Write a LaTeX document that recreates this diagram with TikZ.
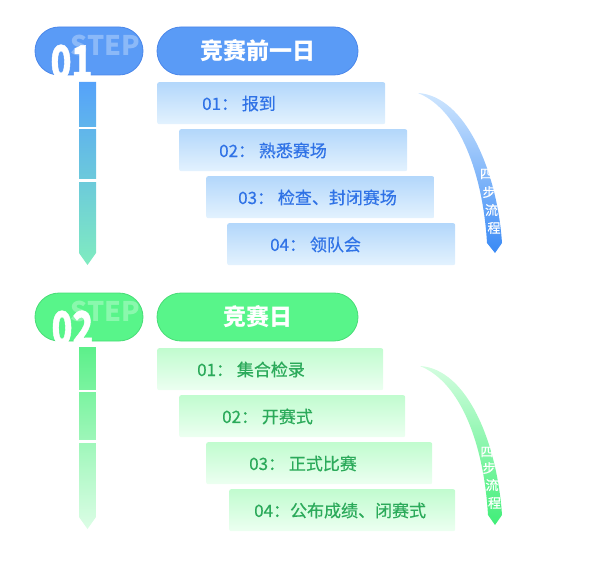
\documentclass[tikz,border=0pt]{standalone}
\usepackage{fontspec}
\setmainfont{Noto Sans CJK SC}
\newfontfamily\itemfont{Noto Sans CJK SC}[FakeBold=0.5]
\newfontfamily\heavyfont{Noto Sans CJK SC}[FakeBold=1.2, BoldFeatures={FakeBold=1.2}]
\usetikzlibrary{positioning}
% colours, blue section
\definecolor{bluepill}{HTML}{5A9BF6}
\definecolor{blueline}{HTML}{4A86EA}
\definecolor{bluetop}{HTML}{B3D7FB}
\definecolor{bluebot}{HTML}{E3F2FE}
\definecolor{bluetext}{HTML}{2F72E6}
\definecolor{bluebarA}{HTML}{55A2FA}
\definecolor{bluebarM}{HTML}{62C2E8}
\definecolor{bluebarB}{HTML}{80ECC0}
\definecolor{bluearrA}{HTML}{CFE6FE}
\definecolor{bluearrM}{HTML}{5EA2F7}
\definecolor{bluearrB}{HTML}{3A8AF5}
% colours, green section
\definecolor{greenpill}{HTML}{58F58A}
\definecolor{greenline}{HTML}{48DC76}
\definecolor{greentop}{HTML}{C1FCCF}
\definecolor{greenbot}{HTML}{ECFFF1}
\definecolor{greentext}{HTML}{2BAA5A}
\definecolor{greenbarA}{HTML}{5CF08A}
\definecolor{greenbarM}{HTML}{9CF7B8}
\definecolor{greenbarB}{HTML}{DCFDE6}
\definecolor{greenarrA}{HTML}{D4FDE0}
\definecolor{greenarrM}{HTML}{6CF196}
\definecolor{greenarrB}{HTML}{40EE78}
\tikzset{
  pill/.style={draw=#1line, fill=#1pill, line width=0.8pt, rounded corners=24pt,
    minimum height=48pt, inner sep=0pt, text=white, font=\fontsize{23}{26}\selectfont\bfseries},
  steptag/.style={text=white, text opacity=0.3, inner sep=0pt, font=\fontsize{27}{30}\selectfont\bfseries},
  stepnum/.style={text=white, inner sep=0pt, font=\fontsize{40}{44}\selectfont\heavyfont\bfseries},
  itembox/.style={top color=#1top, bottom color=#1bot, rounded corners=2pt,
    minimum height=42pt, anchor=north west, inner sep=0pt},
  itemtxt/.style={text=#1text, anchor=west, inner sep=0pt, font=\fontsize{17}{19}\selectfont\itemfont},
  arrtxt/.style={text=white, inner sep=0pt, font=\fontsize{13}{14}\selectfont\itemfont}
}
\begin{document}
\begin{tikzpicture}[x=1pt, y=-1pt]
\useasboundingbox (0,0) rectangle (594,588);

% ---- step 01
\node[pill=blue, minimum width=108pt] (step1) at (89,51) {};
\node[steptag] (tag1) at (105.5,45) {STEP};
\node[stepnum] (num1) at (71.5,62) {\scalebox{0.86}[1.15]{01}};
\node[pill=blue, minimum width=201pt] (title1) at (257.5,51) {竞赛前一日};

\shade[top color=bluebarA, middle color=bluebarM, bottom color=bluebarB]
  (79,82) -- (96,82) -- (96,253) -- (87.5,265) -- (79,253) -- cycle;
\fill[white] (77,127) rectangle (98,129.5);
\fill[white] (77,179.5) rectangle (98,182);

\foreach \n/\x/\y/\tx/\lbl in {1/157/82/202/{01：\ 报到}, 2/179/129/219/{02：\ 熟悉赛场},
    3/206/176/238/{03：\ 检查、封闭赛场}, 4/227/223/270/{04：\ 领队会}} {
  \node[itembox=blue, minimum width=228pt] (b1\n) at (\x,\y) {};
  \node[itemtxt=blue] (t1\n) at (\tx,\y+21.5) {\lbl};
}

\shade[top color=bluearrA, middle color=bluearrM, bottom color=bluearrB]
  (418,93) .. controls (465,96) and (497,170) .. (502,243) -- (495,253) -- (487,243)
  .. controls (483,175) and (460,110) .. (418,93) -- cycle;
\foreach \ch/\px/\py [count=\k] in {四/486.5/174, 步/489/192, 流/491.5/210, 程/494/228}
  \node[arrtxt] (a1\k) at (\px,\py) {\ch};

% ---- step 02
\node[pill=green, minimum width=108pt] (step2) at (89,317) {};
\node[steptag] (tag2) at (105.5,311) {STEP};
\node[stepnum] (num2) at (72.5,328) {\scalebox{0.86}[1.15]{02}};
\node[pill=green, minimum width=201pt] (title2) at (257.5,317) {竞赛日};

\shade[top color=greenbarA, middle color=greenbarM, bottom color=greenbarB]
  (79,347) -- (96,347) -- (96,517) -- (87.5,529) -- (79,517) -- cycle;
\fill[white] (77,389.5) rectangle (98,392);
\fill[white] (77,440) rectangle (98,442.5);

\foreach \n/\x/\y/\tx/\lbl in {1/157/348/197/{01：\ 集合检录}, 2/179/395/222/{02：\ 开赛式},
    3/206/442/249/{03：\ 正式比赛}, 4/229/489/254/{04：公布成绩、闭赛式}} {
  \node[itembox=green, minimum width=226pt] (b2\n) at (\x,\y) {};
  \node[itemtxt=green] (t2\n) at (\tx,\y+21.5) {\lbl};
}

\shade[top color=greenarrA, middle color=greenarrM, bottom color=greenarrB]
  (420,366) .. controls (467,369) and (497,442) .. (502,515) -- (495,525) -- (488,515)
  .. controls (484,447) and (462,383) .. (420,366) -- cycle;
\foreach \ch/\px/\py [count=\k] in {四/487/452, 步/489/468, 流/492/485, 程/494.5/503}
  \node[arrtxt] (a2\k) at (\px,\py) {\ch};
\end{tikzpicture}
\end{document}
